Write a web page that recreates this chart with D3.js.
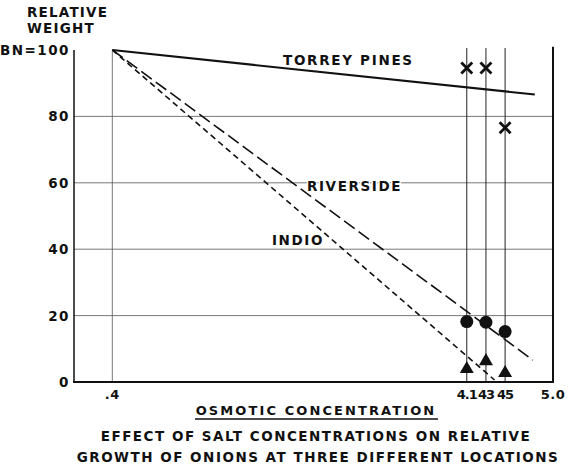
<!DOCTYPE html>
<html>
<head>
<meta charset="utf-8">
<script src="https://cdn.jsdelivr.net/npm/d3@7"></script>
<style>
body { margin: 0; background: #fff; }
text { font-family: "DejaVu Sans", sans-serif; font-weight: bold; fill: #111; }
</style>
</head>
<body>
<svg id="chart" width="569" height="469"></svg>
<script>
// values
var yTicks = [0, 20, 40, 60, 80, 100];
var yLabels = ["0", "20", "40", "60", "80", "BN=100"];
var xTicks = [0.4, 4.1, 4.3, 4.5, 5.0];
var xLabels = [".4", "4.1", "43", "45", "5.0"];
var saltLevels = [4.1, 4.3, 4.5];

var torreyLine = [[0.4, 100], [4.81, 86.6]];
var riversideLine = [[0.4, 100], [4.79, 6.6]];
var indioLine = [[0.4, 100], [4.39, 0.6]];

var torreyPts = [[4.1, 94.6], [4.3, 94.6], [4.5, 76.6]];
var riversidePts = [[4.1, 18.2], [4.3, 18.0], [4.5, 15.2]];
var indioPts = [[4.1, 3.9], [4.3, 6.3], [4.5, 2.7]];

var svg = d3.select("#chart");
var x = d3.scaleLinear().domain([0, 5.0]).range([74, 553]);
var y = d3.scaleLinear().domain([0, 100]).range([382, 50]);

// horizontal grid
svg.append("g").selectAll("line").data([20, 40, 60, 80]).enter().append("line")
	.attr("x1", x(0)).attr("x2", x(5.0))
	.attr("y1", function(d){return y(d)}).attr("y2", function(d){return y(d)})
	.style("stroke", "#555").style("stroke-width", 0.8);

// vertical at .4
svg.append("line")
	.attr("x1", x(0.4)).attr("x2", x(0.4)).attr("y1", y(100)).attr("y2", y(0))
	.style("stroke", "#555").style("stroke-width", 0.8);

// salt level verticals
svg.append("g").selectAll("line").data(saltLevels).enter().append("line")
	.attr("x1", function(d){return x(d)}).attr("x2", function(d){return x(d)})
	.attr("y1", y(100.6)).attr("y2", y(0))
	.style("stroke", "#222").style("stroke-width", 1);

// frame: left axis, right border, bottom axis
svg.append("line").attr("x1", x(0)).attr("x2", x(0)).attr("y1", y(100)).attr("y2", y(0))
	.style("stroke", "#111").style("stroke-width", 1.5);
svg.append("line").attr("x1", x(5.0)).attr("x2", x(5.0)).attr("y1", y(101)).attr("y2", y(0))
	.style("stroke", "#111").style("stroke-width", 2);
svg.append("line").attr("x1", x(0) - 1).attr("x2", x(5.0) + 1).attr("y1", y(0)).attr("y2", y(0))
	.style("stroke", "#111").style("stroke-width", 2.2);

// y tick labels
svg.append("g").selectAll("text").data(yTicks).enter().append("text")
	.attr("x", 70).attr("y", function(d){return y(d) + 5})
	.attr("text-anchor", "end")
	.style("font-size", "13.5px").style("letter-spacing", "1.5px")
	.text(function(d, i){return yLabels[i]});

svg.append("text").attr("x", 27).attr("y", 17).style("font-size", "13.5px")
	.style("letter-spacing", "1.2px").text("RELATIVE");
svg.append("text").attr("x", 27).attr("y", 33).style("font-size", "13.5px")
	.style("letter-spacing", "1.2px").text("WEIGHT");

// x tick labels
svg.append("g").selectAll("text").data(xTicks).enter().append("text")
	.attr("x", function(d){return x(d)}).attr("y", 399)
	.attr("text-anchor", "middle")
	.style("font-size", "13px").style("letter-spacing", function(d){return d > 4 && d < 5 ? "-1px" : "0.5px"})
	.text(function(d, i){return xLabels[i]});

// axis title + caption
svg.append("text").attr("x", 316).attr("y", 415).attr("text-anchor", "middle")
	.style("font-size", "13px").style("letter-spacing", "2.1px")
	.text("OSMOTIC CONCENTRATION");
svg.append("line").attr("x1", 195).attr("x2", 438).attr("y1", 419).attr("y2", 419)
	.style("stroke", "#111").style("stroke-width", 1.3);
svg.append("text").attr("x", 316).attr("y", 441).attr("text-anchor", "middle")
	.style("font-size", "13.5px").style("letter-spacing", "1.5px")
	.text("EFFECT OF SALT CONCENTRATIONS ON RELATIVE");
svg.append("text").attr("x", 318).attr("y", 462).attr("text-anchor", "middle")
	.style("font-size", "13.5px").style("letter-spacing", "1.5px")
	.text("GROWTH OF ONIONS AT THREE DIFFERENT LOCATIONS");

// regression lines
var line = d3.line().x(function(d){return x(d[0])}).y(function(d){return y(d[1])});
svg.append("path").attr("d", line(torreyLine)).attr("fill", "none")
	.style("stroke", "#111").style("stroke-width", 2);
svg.append("path").attr("d", line(riversideLine)).attr("fill", "none")
	.style("stroke", "#111").style("stroke-width", 1.6).style("stroke-dasharray", "13,5");
svg.append("path").attr("d", line(indioLine)).attr("fill", "none")
	.style("stroke", "#111").style("stroke-width", 1.6).style("stroke-dasharray", "6,4");

// line labels
svg.append("text").attr("x", 283).attr("y", 65).style("font-size", "13.5px")
	.style("letter-spacing", "1.7px").text("TORREY PINES");
svg.append("text").attr("x", 307).attr("y", 191).style("font-size", "13.5px")
	.style("letter-spacing", "1.6px").style("paint-order", "stroke").style("stroke", "#fff").style("stroke-width", 3)
	.text("RIVERSIDE");
svg.append("text").attr("x", 272).attr("y", 245).style("font-size", "13.5px")
	.style("letter-spacing", "1.6px").style("paint-order", "stroke").style("stroke", "#fff").style("stroke-width", 3)
	.text("INDIO");

// points
svg.append("g").selectAll("path").data(torreyPts).enter().append("path")
	.attr("d", d3.symbol().type(d3.symbolX).size(80))
	.attr("transform", function(d){return "translate(" + x(d[0]) + "," + y(d[1]) + ")"})
	.style("stroke", "#111").style("stroke-width", 2.8).style("fill", "none");
svg.append("g").selectAll("circle").data(riversidePts).enter().append("circle")
	.attr("cx", function(d){return x(d[0])}).attr("cy", function(d){return y(d[1])})
	.attr("r", 6.5).style("fill", "#111");
svg.append("g").selectAll("path.tri").data(indioPts).enter().append("path")
	.attr("d", d3.symbol().type(d3.symbolTriangle).size(85))
	.attr("transform", function(d){return "translate(" + x(d[0]) + "," + y(d[1]) + ")"})
	.style("fill", "#111");
</script>
</body>
</html>
